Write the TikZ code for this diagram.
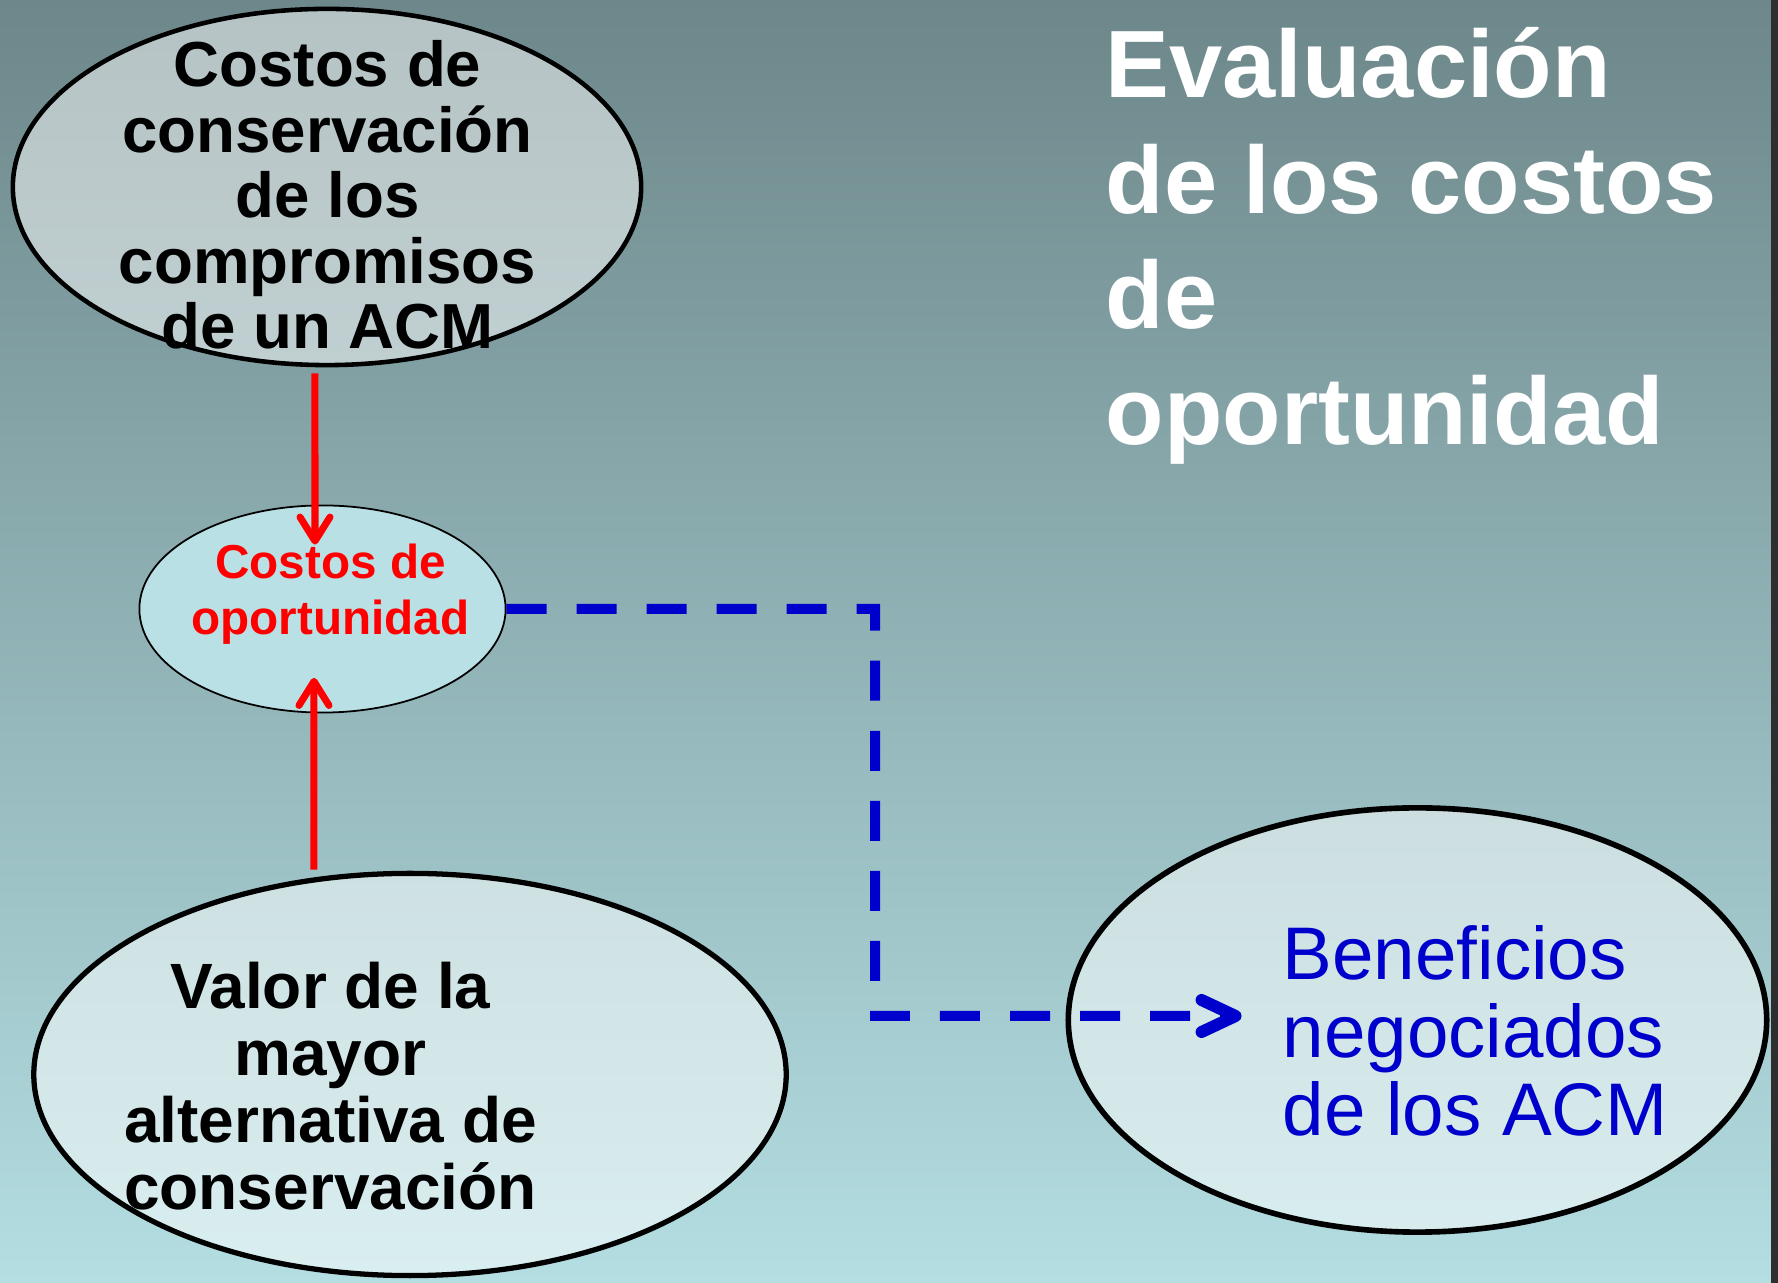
\documentclass[tikz,border=0pt]{standalone}
\usepackage{fontspec}
\setmainfont{Liberation Sans}
\usetikzlibrary{positioning,shapes.geometric,arrows.meta}
\definecolor{bgtop}{HTML}{6D878A}
\definecolor{bgbot}{HTML}{B4DEE2}
\definecolor{oportfill}{HTML}{B9E0E4}
\definecolor{acmblue}{HTML}{0000CC}
\definecolor{edgegray}{HTML}{2E2E2E}

\begin{document}
\begin{tikzpicture}[x=0.01cm,y=-0.01cm,
    elli/.style={ellipse,draw=black,fill=white,fill opacity=0.5,inner sep=0pt},
    bigtxt/.style={font=\bfseries\fontsize{18.1}{18.6}\selectfont,align=center,inner sep=0pt},
    smalltxt/.style={font=\bfseries\fontsize{13.55}{15.9}\selectfont,text=red,align=center,inner sep=0pt},
    bluetxt/.style={font=\fontsize{21.2}{22.1}\selectfont,text=acmblue,align=left,anchor=west,inner sep=0pt},
    titletxt/.style={font=\bfseries\fontsize{27.2}{32.9}\selectfont,text=white,align=left,anchor=west,inner sep=0pt},
    redarrow/.style={draw=red,line width=0.07cm,-{Straight Barb[length=0.24cm,width=0.30cm,round]}},
    bluedash/.style={draw=acmblue,line width=0.10cm,dash pattern=on 0.40cm off 0.30cm,
      -{Straight Barb[length=0.34cm,width=0.32cm,line width=0.12cm,round]}}]
  \useasboundingbox (0,0) rectangle (1778,1283);
  \shade[top color=bgtop,bottom color=bgbot] (0,0) rectangle (1778,1283);
  \fill[edgegray] (1771,0) rectangle (1778,1283);

  \path
  (327,187) node[elli,line width=1.3pt,minimum width=6.28cm,minimum height=3.56cm](conserv) {}
  (322.5,609) node[elli,fill=oportfill,fill opacity=1,line width=0.5pt,minimum width=3.66cm,minimum height=2.07cm](oport) {}
  (410,1074.5) node[elli,line width=1.5pt,minimum width=7.52cm,minimum height=4.02cm](valor) {}
  (1417.5,1020) node[elli,line width=1.6pt,minimum width=6.98cm,minimum height=4.24cm](benef) {}
  (875,1016) coordinate(bend)
  ;

  \draw[redarrow] ([xshift=-0.12cm,yshift=-0.06cm]conserv.south) -- ([xshift=-0.075cm,yshift=-0.40cm]oport.north);
  \draw[redarrow] ([xshift=-0.96cm,yshift=0.01cm]valor.north) -- ([xshift=-0.085cm,yshift=0.355cm]oport.south);
  \draw[bluedash] (oport.east) -| (bend) -- ([xshift=1.76cm,yshift=0.04cm]benef.west);

  \path
  (327.5,195) node[bigtxt](conservtxt) {Costos de\\conservación\\de los\\compromisos\\de un ACM}
  (330.5,594.5) node[smalltxt](oporttxt) {Costos de\\oportunidad}
  (330.5,1086) node[bigtxt,font=\bfseries\fontsize{18.2}{19.1}\selectfont](valortxt) {Valor de la\\mayor\\alternativa de\\conservación}
  (1282,1031) node[bluetxt](beneftxt) {Beneficios\\negociados\\de los ACM}
  (1105,246) node[titletxt](titulo) {Evaluación\\de los costos\\de\\oportunidad}
  ;
\end{tikzpicture}
\end{document}
